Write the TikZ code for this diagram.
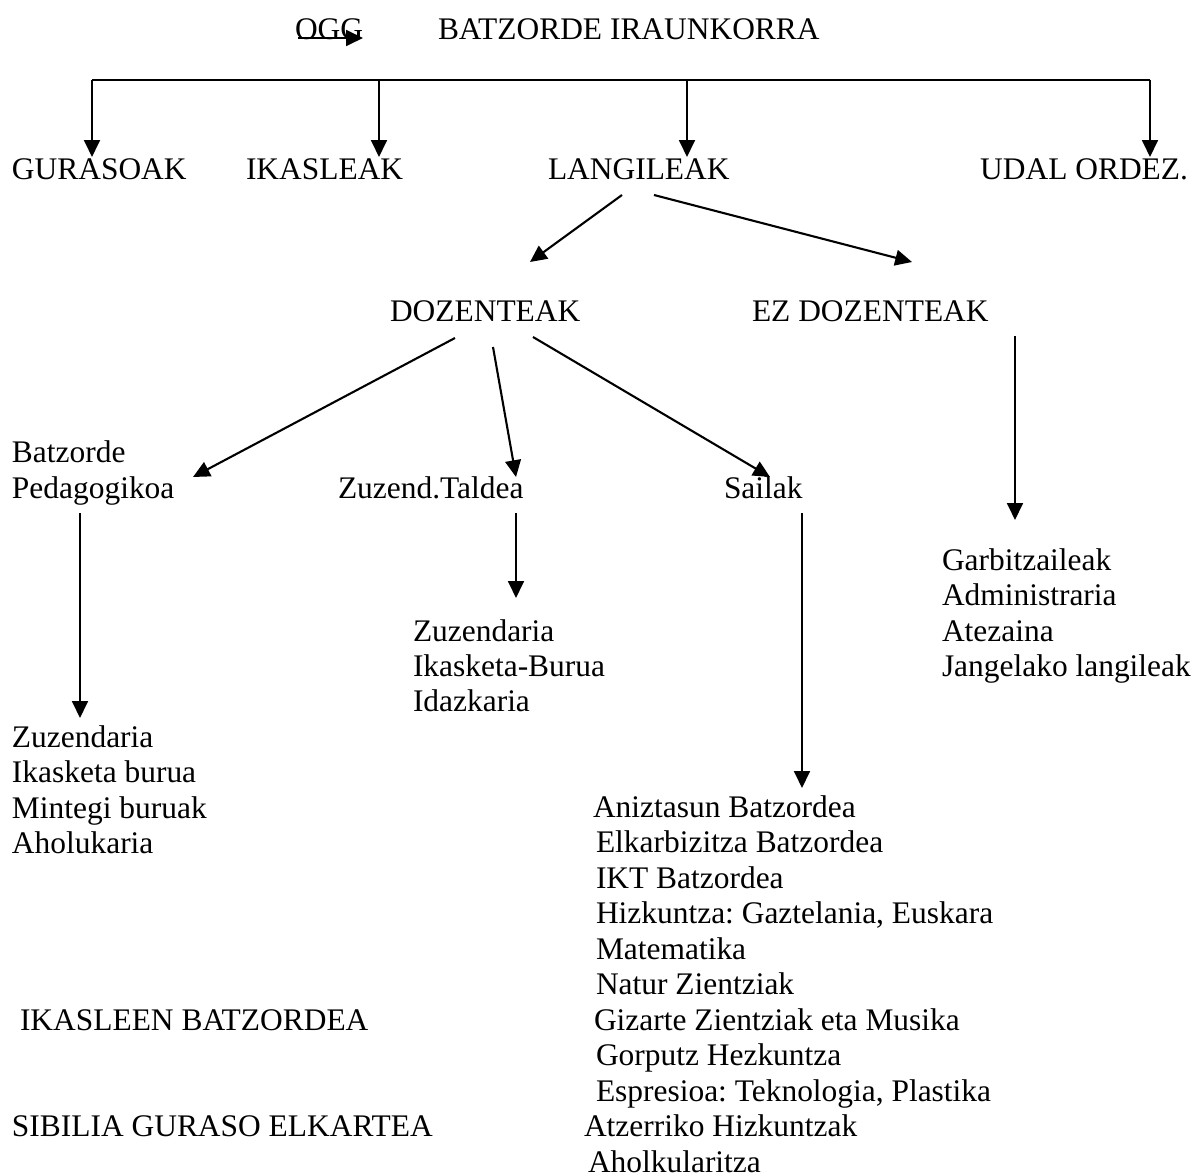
\documentclass[tikz,border=0pt]{standalone}
\usepackage{fontspec}
\setmainfont{Liberation Serif}
\usetikzlibrary{arrows.meta}
\begin{document}
\begin{tikzpicture}[x=0.3817pt,y=-0.3817pt,
  lbl/.style={inner sep=0pt,outer sep=0pt,anchor=base west,font=\fontsize{12}{13.5}\selectfont\frenchspacing},
  lblr/.style={lbl,anchor=base east},
  conn/.style={line width=0.8pt,-{Triangle[length=6.4pt,width=6pt]}},
  bar/.style={line width=0.8pt}]
\useasboundingbox (0,0) rectangle (1201,1176);
\fill[white] (0,0) rectangle (1201,1176);
% title
\node[lbl] (ogg) at (295,40) {OGG};
\node[lbl] (bi) at (438,40) {BATZORDE IRAUNKORRA};
\coordinate (oggA) at (298,38);
\coordinate (oggB) at (363,38);
\draw[conn] (oggA) -- (oggB);
% level 1
\node[lbl] (gur) at (12,180) {GURASOAK};
\node[lbl] (ikas) at (246,180) {IKASLEAK};
\node[lbl] (lang) at (548,180) {LANGILEAK};
\node[lblr] (udal) at (1188,180) {UDAL ORDEZ.};
\coordinate (barL) at (92,80);
\coordinate (barR) at (1150,80);
\coordinate (b2) at (379,80);
\coordinate (b3) at (687,80);
\coordinate (tGur) at (92,157);
\coordinate (tIkas) at (379,157);
\coordinate (tLang) at (687,157);
\coordinate (tUdal) at (1150,157);
\draw[bar] (tGur |- barL) -- (barR);
\draw[conn] (barL) -- (tGur);
\draw[conn] (b2) -- (tIkas);
\draw[conn] (b3) -- (tLang);
\draw[conn] (barR) -- (tUdal);
% level 2
\node[lbl] (doz) at (390,322) {DOZENTEAK};
\node[lbl] (ezdoz) at (752,322) {EZ DOZENTEAK};
\coordinate (langL) at (622,195);
\coordinate (langR) at (654,195);
\coordinate (tDoz) at (530,262);
\coordinate (tEz) at (912,262);
\draw[conn] (langL) -- (tDoz);
\draw[conn] (langR) -- (tEz);
% level 3
\node[lbl] (batz1) at (12,463) {Batzorde};
\node[lbl] (batz2) at (12,499) {Pedagogikoa};
\node[lbl] (zuz) at (338,499) {Zuzend.Taldea};
\node[lbl] (sail) at (724,499) {Sailak};
\coordinate (dozA) at (455,338);
\coordinate (dozB) at (493,347);
\coordinate (dozC) at (533,337);
\coordinate (tBatz) at (193,477);
\coordinate (tZuz) at (516,477);
\coordinate (tSail) at (770,477);
\draw[conn] (dozA) -- (tBatz);
\draw[conn] (dozB) -- (tZuz);
\draw[conn] (dozC) -- (tSail);
\coordinate (ezA) at (1015,336);
\coordinate (tEzL) at (1015,520);
\draw[conn] (ezA) -- (tEzL);
\coordinate (pedA) at (80,513);
\coordinate (tPed) at (80,718);
\draw[conn] (pedA) -- (tPed);
\coordinate (zuzA) at (516,513);
\coordinate (tZuzL) at (516,598);
\draw[conn] (zuzA) -- (tZuzL);
\coordinate (sailA) at (802,513);
\coordinate (tSailL) at (802,788);
\draw[conn] (sailA) -- (tSailL);
% EZ DOZENTEAK list
\node[lbl] (ez1) at (942,570) {Garbitzaileak};
\node[lbl] (ez2) at (942,605.5) {Administraria};
\node[lbl] (ez3) at (942,641) {Atezaina};
\node[lbl] (ez4) at (942,676.5) {Jangelako langileak};
% Zuzend list
\node[lbl] (zl1) at (413,641) {Zuzendaria};
\node[lbl] (zl2) at (413,676) {Ikasketa-Burua};
\node[lbl] (zl3) at (413,711) {Idazkaria};
% Pedagogikoa list
\node[lbl] (pl1) at (12,747) {Zuzendaria};
\node[lbl] (pl2) at (12,782.5) {Ikasketa burua};
\node[lbl] (pl3) at (12,818) {Mintegi buruak};
\node[lbl] (pl4) at (12,853.5) {Aholukaria};
% Sailak list
\node[lbl] (s1) at (593,817) {Aniztasun Batzordea};
\node[lbl] (s2) at (596,852.5) {Elkarbizitza Batzordea};
\node[lbl] (s3) at (596,888) {IKT Batzordea};
\node[lbl] (s4) at (596,923.5) {Hizkuntza: Gaztelania, Euskara};
\node[lbl] (s5) at (596,959) {Matematika};
\node[lbl] (s6) at (596,994.5) {Natur Zientziak};
\node[lbl] (s7) at (594,1030) {Gizarte Zientziak eta Musika};
\node[lbl] (s8) at (596,1065.5) {Gorputz Hezkuntza};
\node[lbl] (s9) at (596,1101) {Espresioa: Teknologia, Plastika};
\node[lbl] (s10) at (584,1136.5) {Atzerriko Hizkuntzak};
\node[lbl] (s11) at (588,1172) {Aholkularitza};
% bottom left
\node[lbl] (ikb) at (20,1030) {IKASLEEN BATZORDEA};
\node[lbl] (sib) at (12,1136.5) {SIBILIA GURASO ELKARTEA};
\end{tikzpicture}
\end{document}
